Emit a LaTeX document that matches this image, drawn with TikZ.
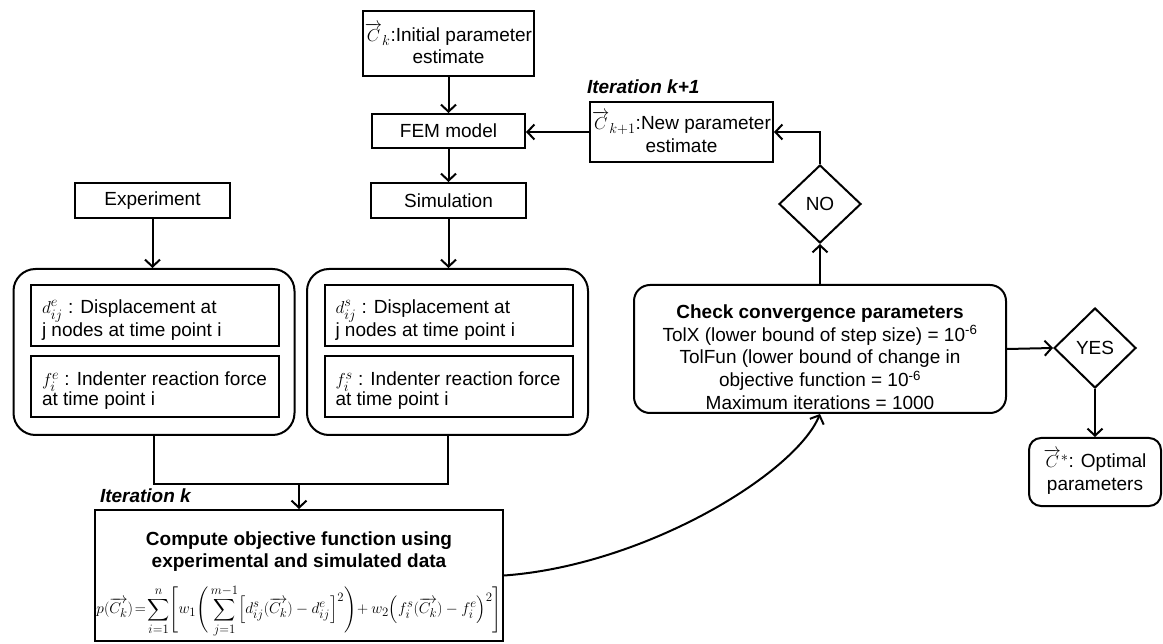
\documentclass[tikz,border=0pt]{standalone}
\usepackage{fontspec}
\setmainfont{Liberation Sans}
\usepackage{amsmath}
\usepackage{graphicx}
\usetikzlibrary{arrows.meta,shapes.geometric}
\begin{document}
\begin{tikzpicture}[x=1pt,y=-1pt,
  font=\fontsize{19}{22.7}\selectfont,
  line width=2pt,
  box/.style={draw, rectangle, inner sep=0pt, align=center},
  rbox/.style={draw, rectangle, rounded corners=16pt, inner sep=0pt, align=center},
  cont/.style={draw, rectangle, rounded corners=22pt, inner sep=0pt, minimum width=281pt, minimum height=166pt},
  inbox/.style={draw, rectangle, inner sep=0pt, minimum width=248pt, minimum height=61pt},
  intext/.style={anchor=west, inner sep=0pt, align=left, font=\fontsize{19}{20}\selectfont},
  dia/.style={draw, diamond, inner sep=0pt},
  arr/.style={-{Straight Barb[length=7pt,width=15pt]}},
  iter/.style={font=\fontsize{19}{22}\selectfont\bfseries\itshape, inner sep=0pt}]
\useasboundingbox (0,0) rectangle (1163,644);

% top column
\node[box, minimum width=171pt, minimum height=65pt] (init) at (448.5,43.5)
  {$\overrightarrow{C}_{k}$:Initial parameter\\estimate};
\node[box, minimum width=153pt, minimum height=34pt] (fem) at (448.5,131) {FEM model};
\node[box, minimum width=183pt, minimum height=60pt] (new) at (681.5,132)
  {$\overrightarrow{C}_{k+1}$:New parameter\\estimate};
\node[iter, anchor=base west] (itk1) at (586,94) {Iteration k+1};

\node[box, minimum width=155pt, minimum height=35pt] (exp) at (152.5,200.5) {Experiment};
\node[box, minimum width=155pt, minimum height=35pt] (sim) at (448.5,200.5) {Simulation};

% containers
\node[cont] (lc) at (154,352) {};
\node[cont] (rc) at (447.5,352) {};
\node[inbox] (ld) at (155,315.5) {};
\node[inbox] (lf) at (155,386.5) {};
\node[inbox] (rd) at (448.5,315.5) {};
\node[inbox] (rf) at (448.5,386.5) {};
\node[intext] (ldt) at (41,320) {$d^{e}_{ij}$ : Displacement at\\j nodes at time point i};
\node[intext] (lft) at (41,391) {$f^{e}_{i}$ : Indenter reaction force\\at time point i};
\node[intext] (rdt) at (334.5,320) {$d^{s}_{ij}$ : Displacement at\\j nodes at time point i};
\node[intext] (rft) at (334.5,391) {$f^{s}_{i}$ : Indenter reaction force\\at time point i};

% objective
\node[box, minimum width=408pt, minimum height=131pt] (obj) at (299,575.5) {};
\node[iter, anchor=base west] (itk) at (99,502) {Iteration k};
\node[font=\fontsize{19}{22}\selectfont\bfseries, anchor=base] (objt1) at (299,545) {Compute objective function using};
\node[font=\fontsize{19}{22}\selectfont\bfseries, anchor=base] (objt2) at (299,567) {experimental and simulated data};
\node[inner sep=0pt] (form) at (299,611)
  {\resizebox{405pt}{!}{$\displaystyle p(\overrightarrow{C_k})\!=\!\sum_{i=1}^{n}\!\Bigg[w_1\Bigg(\sum_{j=1}^{m-1}\!\Big[d^{s}_{ij}(\overrightarrow{C_k})-d^{e}_{ij}\Big]^2\Bigg)\!+w_2\Big(f^{s}_{i}(\overrightarrow{C_k})-f^{e}_{i}\Big)^2\Bigg]$}};

% convergence
\node[rbox, minimum width=372pt, minimum height=128pt] (chk) at (820,349) {};
\node[align=center, inner sep=0pt] (chkt) at (820,357)
  {\textbf{Check convergence parameters}\\
   TolX (lower bound of step size) = 10\textsuperscript{-6}\\
   TolFun (lower bound of change in\\
   objective function = 10\textsuperscript{-6}\\
   Maximum iterations = 1000};

\node[dia, minimum width=82pt, minimum height=78pt] (no) at (820,204) {NO};
\node[dia, minimum width=82pt, minimum height=80pt] (yes) at (1095,348) {YES};
\node[rbox, rounded corners=12pt, minimum width=132pt, minimum height=68pt] (opt) at (1095,472)
  {$\overrightarrow{C}^{*}$: Optimal\\parameters};

% connectors
\draw[arr] (init.south) -- (fem.north);
\draw[arr] (fem.south) -- (sim.north);
\draw[arr] (new.west) -- (new.west -| fem.east);
\draw[arr] (exp.south) -- (exp.south |- lc.north);
\draw[arr] (sim.south) -- (sim.south |- rc.north);
\coordinate (jl) at (154,484);
\coordinate (jr) at (447.5,484);
\coordinate (jm) at (299,484);
\draw (lc.south) -- (jl) -- (jr) -- (rc.south);
\draw[arr] (jm) -- (obj.north);
\draw[arr] (obj.east) .. controls +(140,-10) and +(-25,60) .. (chk.south);
\draw[arr] (chk.north) -- (no.south);
\coordinate (nc) at (820,132);
\draw[arr] (no.north) -- (nc) -- (new.east);
\draw[arr] (chk.east) -- (yes.west);
\draw[arr] (yes.south) -- (opt.north);
\end{tikzpicture}
\end{document}
